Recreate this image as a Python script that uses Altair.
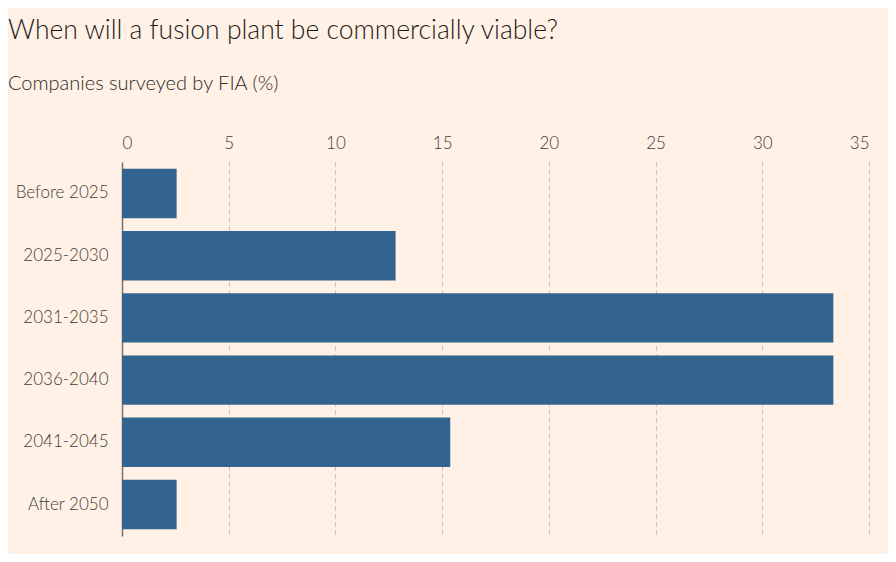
import altair as alt
import pandas as pd

categories = ["Before 2025", "2025-2030", "2031-2035", "2036-2040", "2041-2045", "After 2050"]
values = [2.56, 12.82, 33.33, 33.33, 15.38, 2.56]
x_ticks = [0, 5, 10, 15, 20, 25, 30, 35]

df = pd.DataFrame({"period": categories, "pct": values})

FONT = "Lato"
BG = "#FFF1E5"

chart = alt.Chart(df).mark_bar(color="#33648F").encode(
    x=alt.X("pct:Q",
            scale=alt.Scale(domain=[0, 35], nice=False),
            axis=alt.Axis(orient="top", values=x_ticks, title=None, domain=False, ticks=False,
                          labelPadding=10, labelFontSize=17, labelColor="#423D3A", labelFont=FONT,
                          labelFontWeight=300,
                          grid=True, gridDash=[4, 4], gridColor="#C6BBB2", gridWidth=1)),
    y=alt.Y("period:N", sort=categories,
            scale=alt.Scale(paddingInner=0.205, paddingOuter=0.107),
            axis=alt.Axis(title=None, ticks=False, domain=True, domainColor="#7A706A", domainWidth=1.5,
                          labelPadding=14, labelFontSize=17, labelColor="#423D3A", labelFont=FONT,
                          labelFontWeight=300,
                          grid=False)),
).properties(
    width=747,
    height=374,
    autosize=alt.AutoSizeParams(type="none"),
    padding={"left": 114, "top": 154, "right": 19, "bottom": 18},
    background=BG,
    title=alt.TitleParams(
        text="When will a fusion plant be commercially viable?",
        subtitle="Companies surveyed by FIA (%)",
        anchor="start", frame="group", dx=-114, offset=40,
        font=FONT, fontSize=26.5, fontWeight=300, color="#1F1B19",
        subtitleFont=FONT, subtitleFontSize=20, subtitleColor="#2E2A28",
        subtitleFontWeight=300,
        subtitlePadding=30,
    ),
).configure_view(stroke=None)

chart.save("out.html", embed_options={"renderer": "svg", "actions": False})
